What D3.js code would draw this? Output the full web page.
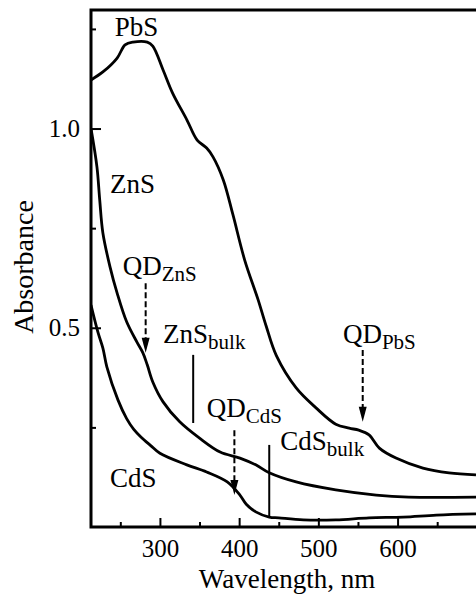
<!DOCTYPE html>
<html>
<head>
<meta charset="utf-8">
<script src="https://cdn.jsdelivr.net/npm/d3@7"></script>
<style>
	html, body {
		margin: 0;
		padding: 0;
		background: #fff;
	}
	svg text {
		font-family: 'Liberation Serif', 'Times New Roman', serif;
		fill: #000;
	}
</style>
</head>
<body>
<div id="chart"></div>
<script>
// spectra (wavelength in nm, absorbance)
const pbsWl = [213, 228, 246, 256, 266, 284, 291, 304, 316, 334, 347, 359, 367, 380, 392, 407, 424, 434, 447, 472, 497, 522, 539, 551, 564, 577, 598, 632, 665, 699];
const pbsAbs = [1.122, 1.142, 1.177, 1.21, 1.217, 1.217, 1.207, 1.147, 1.089, 1.022, 0.971, 0.951, 0.929, 0.871, 0.785, 0.67, 0.57, 0.505, 0.43, 0.349, 0.299, 0.258, 0.248, 0.243, 0.231, 0.198, 0.173, 0.148, 0.136, 0.131];

const znsWl = [213, 220.5, 224, 228, 237, 246, 258, 271, 278.5, 284, 291, 304, 325, 350, 376, 401, 421, 438, 472, 522, 573, 614, 699];
const znsAbs = [1.0, 0.904, 0.821, 0.738, 0.653, 0.587, 0.515, 0.464, 0.437, 0.407, 0.364, 0.314, 0.264, 0.223, 0.188, 0.173, 0.156, 0.136, 0.113, 0.093, 0.08, 0.075, 0.075];

const cdsWl = [213, 222, 228, 233, 247, 258, 267, 276, 288, 300, 334, 359, 385, 401, 409, 421, 438, 450, 481, 522, 564, 607, 649, 699];
const cdsAbs = [0.557, 0.487, 0.449, 0.402, 0.319, 0.272, 0.245, 0.226, 0.205, 0.185, 0.156, 0.138, 0.113, 0.08, 0.057, 0.038, 0.025, 0.023, 0.018, 0.018, 0.023, 0.025, 0.03, 0.033];

const xTicks = [300, 400, 500, 600];
const xMinorTicks = [250, 350, 450, 550, 650];
const yTicks = [0.5, 1.0];
const yMinorTicks = [0.25, 0.75, 1.25];

// curve labels: [text, subscript, wavelength, absorbance]
const labels = [
	['PbS', null, 243, 1.232],
	['ZnS', null, 237, 0.838],
	['CdS', null, 237, 0.1],
	['QD', 'ZnS', 253, 0.632],
	['ZnS', 'bulk', 304, 0.462],
	['QD', 'CdS', 359, 0.276],
	['CdS', 'bulk', 452, 0.193],
	['QD', 'PbS', 531, 0.462],
];

// dashed arrows to the quantum dot features: [wavelength, from, to]
const qdArrows = [
	[282, 0.612, 0.437],
	[394, 0.243, 0.08],
	[556, 0.444, 0.264],
];

// bulk band edges: [wavelength, from, to]
const bulkLines = [
	[342, 0.432, 0.261],
	[438, 0.206, 0.025],
];

const width = 476;
const height = 595;
const margin = {top: 9, right: 0, bottom: 68, left: 91};

const svg = d3
	.select('#chart')
	.append('svg')
	.attr('width', width)
	.attr('height', height);

const x = d3
	.scaleLinear()
	.domain([213, 699])
	.range([margin.left, width - margin.right]);

const y = d3
	.scaleLinear()
	.domain([0, 1.3])
	.range([height - margin.bottom, margin.top]);

svg.append('clipPath')
	.attr('id', 'plot-clip')
	.append('rect')
	.attr('x', margin.left)
	.attr('y', margin.top)
	.attr('width', width - margin.left - margin.right)
	.attr('height', height - margin.top - margin.bottom);

// axes, ticks pointing inward
svg.append('g')
	.attr('transform', `translate(0,${y(0)})`)
	.call(
		d3.axisBottom(x)
			.tickValues(xTicks)
			.tickSize(-9)
			.tickPadding(12)
			.tickFormat(d3.format('d'))
	);

svg.append('g')
	.attr('transform', `translate(0,${y(0)})`)
	.call(d3.axisBottom(x).tickValues(xMinorTicks).tickSize(-5).tickFormat(''));

svg.append('g')
	.attr('transform', `translate(${margin.left},0)`)
	.call(
		d3.axisLeft(y)
			.tickValues(yTicks)
			.tickSize(-10)
			.tickPadding(11)
			.tickFormat(d3.format('.1f'))
	);

svg.append('g')
	.attr('transform', `translate(${margin.left},0)`)
	.call(d3.axisLeft(y).tickValues(yMinorTicks).tickSize(-5).tickFormat(''));

svg.selectAll('.domain').remove();
svg.selectAll('.tick line').attr('stroke', '#000').attr('stroke-width', 2);
svg.selectAll('.tick text').attr('font-size', 25).attr('font-family', null);

// frame: top, left, bottom
const x0 = margin.left;
const x1 = width - margin.right;
svg.append('path')
	.attr('d', `M${x1},${y(1.3) + 1}H${x0}V${y(0)}H${x1}`)
	.attr('fill', 'none')
	.attr('stroke', '#000')
	.attr('stroke-width', 3);

// spectra
const line = d3
	.line()
	.x(d => x(d[0]))
	.y(d => y(d[1]))
	.curve(d3.curveCatmullRom.alpha(0.5));

const series = [
	d3.zip(pbsWl, pbsAbs),
	d3.zip(znsWl, znsAbs),
	d3.zip(cdsWl, cdsAbs),
];

svg.append('g')
	.attr('clip-path', 'url(#plot-clip)')
	.selectAll('path')
	.data(series)
	.enter()
	.append('path')
	.attr('d', line)
	.attr('fill', 'none')
	.attr('stroke', '#000')
	.attr('stroke-width', 2.8)
	.attr('stroke-linejoin', 'round');

// bulk edge markers
svg.append('g')
	.selectAll('line')
	.data(bulkLines)
	.enter()
	.append('line')
	.attr('x1', d => x(d[0]))
	.attr('x2', d => x(d[0]))
	.attr('y1', d => y(d[1]))
	.attr('y2', d => y(d[2]))
	.attr('stroke', '#000')
	.attr('stroke-width', 2);

// dashed arrows
const arrows = svg
	.append('g')
	.selectAll('g')
	.data(qdArrows)
	.enter()
	.append('g');

arrows
	.append('line')
	.attr('x1', d => x(d[0]))
	.attr('x2', d => x(d[0]))
	.attr('y1', d => y(d[1]))
	.attr('y2', d => y(d[2]) - 12)
	.attr('stroke', '#000')
	.attr('stroke-width', 2)
	.attr('stroke-dasharray', '6,3');

arrows
	.append('path')
	.attr('d', d => {
		const ax = x(d[0]);
		const ay = y(d[2]);
		return `M${ax},${ay}L${ax - 4},${ay - 15}L${ax + 4},${ay - 15}Z`;
	})
	.attr('fill', '#000');

// curve labels with subscripts
const label = svg
	.append('g')
	.selectAll('text')
	.data(labels)
	.enter()
	.append('text')
	.attr('x', d => x(d[2]))
	.attr('y', d => y(d[3]))
	.attr('font-size', 27);

label.append('tspan').text(d => d[0]);

label
	.filter(d => d[1])
	.append('tspan')
	.attr('font-size', 21)
	.attr('dy', 6)
	.text(d => d[1]);

// axis titles
svg.append('text')
	.attr('x', 287)
	.attr('y', 588)
	.attr('text-anchor', 'middle')
	.attr('font-size', 27)
	.text('Wavelength, nm');

svg.append('text')
	.attr('transform', 'translate(33,267) rotate(-90)')
	.attr('text-anchor', 'middle')
	.attr('font-size', 28)
	.text('Absorbance');
</script>
</body>
</html>
